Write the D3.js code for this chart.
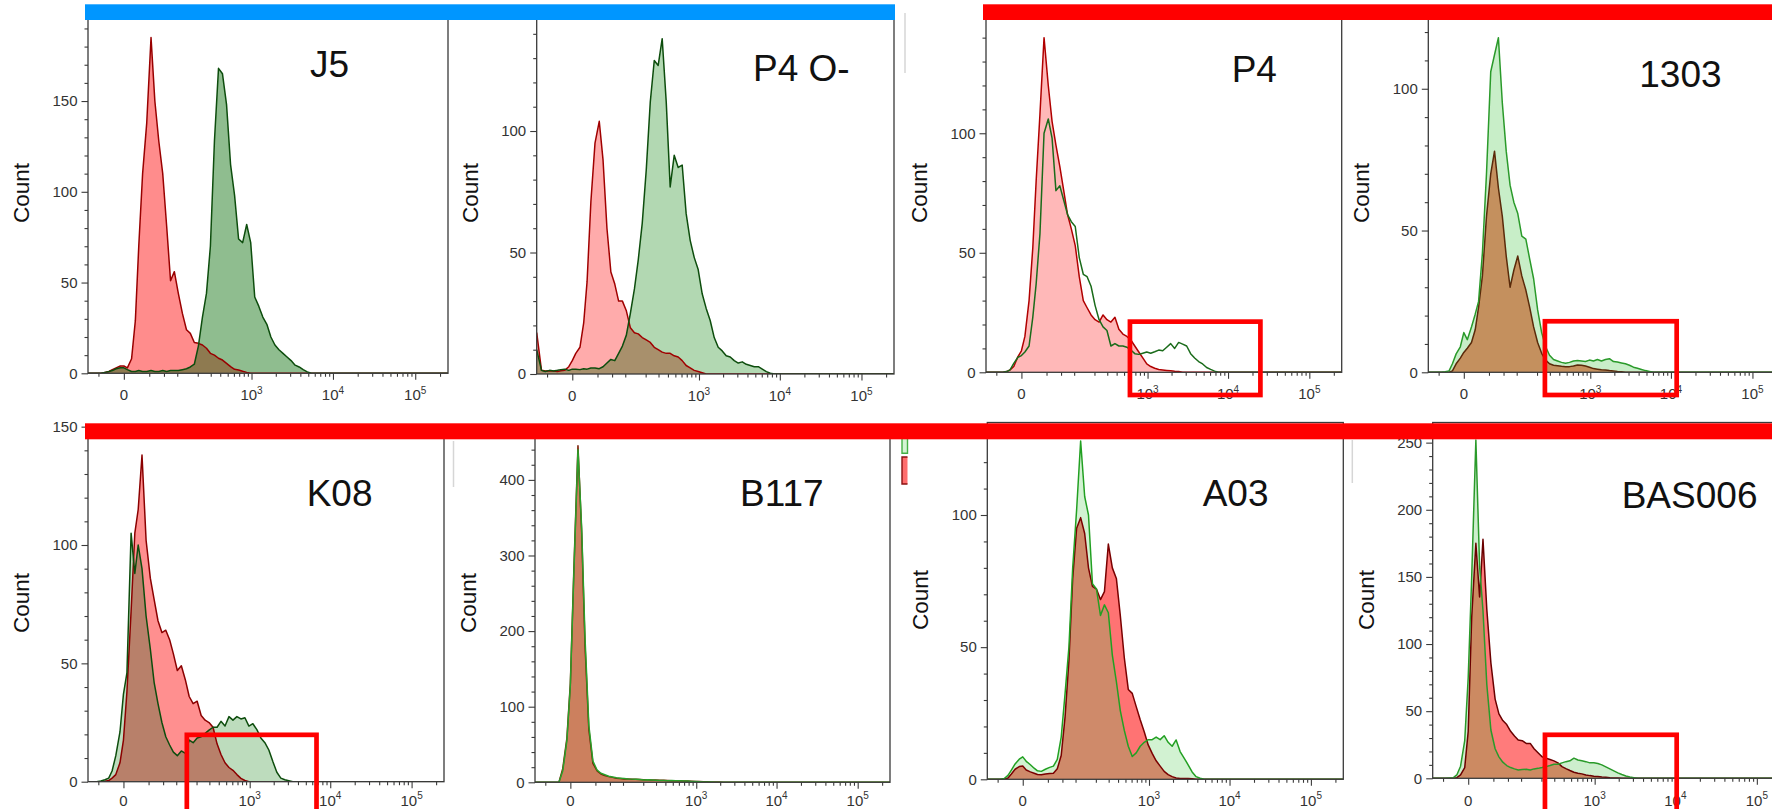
<!DOCTYPE html>
<html>
<head>
<meta charset="utf-8">
<script src="https://cdn.jsdelivr.net/npm/d3@7"></script>
<style>
  html, body { margin: 0; padding: 0; background: #fff; }
  svg { display: block; }
</style>
</head>
<body>
<svg id="fig" width="1772" height="809"></svg>
<script>
// ---------------------------------------------------------------------------
// Flow cytometry overlays: count per fluorescence channel, two stains per sample
// ---------------------------------------------------------------------------

const PANEL_NAMES = ["J5", "P4 O-", "P4", "1303", "K08", "B117", "A03", "BAS006"];

// fluorescence channel centres (biexponential display)
const CHANNELS = [-50,
  -40, -33, -26, -20, -15, -11, -7, -3, 0, 3,
  7, 11, 15, 20, 26, 33, 40, 48, 57, 67,
  78, 90, 104, 120, 138, 157, 179, 204, 232, 263,
  297, 336, 380, 428, 483, 544, 612, 688, 774, 870,
  977, 1097, 1231, 1382, 1551, 1739, 1951, 2187, 2452, 2749,
  3081, 3453, 3869, 4336, 4857, 5443, 6097, 6829, 7649, 8567,
  9596, 10749, 12036, 13481, 15098, 16907, 18935,
  250000];

const J5_RED = [0,
  0,0,0,0.5,1,2,3,4,4,3,
  8,29,70,110,138,185,150,128,110,81,
  51,56,44,33,24,22,17,16.5,15.6,13.8,
  11,10,8.3,7.3,5.5,3.7,2.2,1.8,1.1,0.5,
  0,0,0,0,0,0,0,0,0,0,
  0,0,0,0,0,0,0,0,0,0,
  0,0,0,0,0,0,0,
  0];
const J5_GREEN = [0,
  0,0,0,0.5,1,1.5,2.5,3,3,2,
  1,1,1.5,1,1,1.5,1,1,1.5,1,
  1.5,1.5,1.5,2,2.5,3.5,5,15,31,44,
  70,128,168,165,148,115,98,74,72,82,
  72,42,37,31,27,20,15.6,13,11,9,
  7,4.5,3.5,2,0.8,0,0,0,0,0,
  0,0,0,0,0,0,0,
  0];

const P4O_RED = [17,
  1.5,1.2,1.3,1.2,1.0,1.3,1.5,3,5.5,8.5,
  11,21,38,71,95,104,88,60,42,37,
  30,30,26,19,17,16.5,15,14,13,11,
  10,9,8.5,8.5,7.5,7,5.5,3.5,2.5,1.5,
  1,0.5,0,0,0,0,0,0,0,0,
  0,0,0,0,0,0,0,0,0,0,
  0,0,0,0,0,0,0,
  0];
const P4O_GREEN = [10,
  1.5,1.0,1.5,1.2,1.5,1.8,2,1.5,2,2,
  1.8,2.2,2,2.5,2.5,2.2,3,4.5,6,5.5,
  8.5,11.5,16,25,35,47,62,84,112,129,
  127,138,112,77,90,85,86,66,55,48,
  43,33,27,22,15,11,9.5,7.5,7,5.5,
  4.5,5,4,3.5,3,3,2,1,0.3,0,
  0,0,0,0,0,0,0,
  0];

const P4_RED = [0,
  0,0,0,0,0.3,1,2.4,6.6,9,15,
  30,52,80,108,140,120,105,95,86,76,
  66,60,53,40,30,27,24,22,21,24,
  22,21,23,18,16,15,13.5,11,8.5,6,
  3.5,2.4,1.7,1.2,1,0.8,0.6,0.4,0.3,0,
  0,0,0,0,0,0,0,0,0,0,
  0,0,0,0,0,0,0,
  0];
const P4_GREEN = [0,
  0,0,0,0,0.3,1,3.7,6.3,7,8.5,
  11,23,37,58,100,106,98,76,78,72,
  66,63,61,48,41,40,36,28,22,19,
  17.5,11,12,11,11,10.5,9.3,7.8,7.5,8,
  8.5,8,8.6,9.3,9,10.5,12,10,12.5,11.8,
  11,7.8,6,4.5,3.5,2,1.2,0.5,0,0,
  0,0,0,0,0,0,0,
  0];

const S1303_RED = [0,
  0,0,0,0,0,0.5,3,5,7,8.5,
  10.5,15,23,34,55,70,78,65,55,41,
  30,36,41,34,29,23,16,10.5,6.7,4.3,
  3,2.5,2.3,2.1,2,2,2.2,2.6,2.5,2.2,
  1.8,1.3,1.1,0.9,0.8,0.6,0.5,0.3,0.2,0,
  0,0,0,0,0,0,0,0,0,0,
  0,0,0,0,0,0,0,
  0];
const S1303_GREEN = [0,
  0,0,0,0.2,0.5,3,6.5,9,14,11.5,
  16,20.5,25,42,70,106,112,118,95,78,
  66,60,56,48,47,40,33,22,14,9,
  6,4.5,4,3.5,3.2,3.5,4,4.2,4,3.8,
  4.3,4,4.5,4,4.5,4.8,3.8,3.6,3.3,3,
  2.5,1.8,1.4,1,0.6,0.3,0,0,0,0,
  0,0,0,0,0,0,0,
  0];

const K08_RED = [0,
  0,0,0,0.2,0.5,1.5,3,8,17.6,38,
  72,105,115,138,102,86,77,68,63,64,
  60,54,47,49,43,36,33,34,28,26,
  25,23,16,11.5,8,6,4.8,3,1.4,0.5,
  0,0,0,0,0,0,0,0,0,0,
  0,0,0,0,0,0,0,0,0,0,
  0,0,0,0,0,0,0,
  0];
const K08_GREEN = [0,
  0,0,0.3,0.8,1.5,4.5,11,21,37,46,
  105,88,100,90,70,56,42,33,25,19,
  15.5,12.5,11,13,12,17.6,16.5,18.5,19,20.4,
  21.8,23,23,25.5,23.5,27.5,26,27.5,26.5,27,
  23.5,24.5,22,18.5,16.5,13.4,8.5,4,1.5,0.8,
  0.4,0,0,0,0,0,0,0,0,0,
  0,0,0,0,0,0,0,
  0];

const B117_RED = [0,
  0,0,0,0,0,0.5,18,58,131,280,
  445,330,180,70,25,15,11,9,7.5,6.5,
  5.5,5,4.5,4.3,4,4,3.8,3.5,3.3,3,
  3,2.8,2.6,2.4,2.2,2,2,1.8,1.8,1.5,
  1.2,1,0.8,0.6,0.5,0.4,0.3,0.2,0,0,
  0,0,0,0,0,0,0,0,0,0,
  0,0,0,0,0,0,0,
  0];
const B117_GREEN = [0,
  0,0,0,0,0,0.3,15,55,128,275,
  440,335,190,75,28,16,12,10,8,7,
  6,5.5,5,4.5,4.2,4,3.6,3.2,3.3,3,
  2.7,2.5,2.5,2.2,2.3,2,2.2,1.8,1.6,1.2,
  1,0.7,0.5,0.4,0.3,0.2,0.1,0,0,0,
  0,0,0,0,0,0,0,0,0,0,
  0,0,0,0,0,0,0,
  0];

const A03_RED = [0,
  0,0,0,0,0.5,2,3.8,4.8,5,3.5,
  2.8,2.3,1.8,1.7,2,2.2,2.3,4,9,23.7,
  45,76,95,99,93,80,73,72,68,71,
  89,80,76,62,46,34,32.5,27.5,22.5,18,
  13,9.8,7,5,3,1.8,1,0.5,0.3,0.3,
  0.3,0.2,0,0,0,0,0,0,0,0,
  0,0,0,0,0,0,0,
  0];
const A03_GREEN = [0,
  0,0,0,0.3,1.5,3.5,5.8,7.6,8.5,6.8,
  5.5,4.2,3.2,3,3.8,4.5,5,7.5,16,32.5,
  50,80,102,128,107,100,74,72,62,66,
  63,47,37,26,18.5,12.5,8.6,10,12.5,14,
  15,15,16,15,16.5,14,12.5,14.9,10.5,8,
  5.5,2.8,1,0.4,0,0,0,0,0,0,
  0,0,0,0,0,0,0,
  0];

const BAS006_RED = [0,
  0,0,0,0,0,0.5,2.5,8,35,120,
  175,135,178,126,86,59,48,43,40,35,
  31.5,28.5,28,26,26,22,19,16,14.9,14,
  13,11.5,8.7,7.2,5.8,4.5,3.8,3.3,2.5,2,
  1.6,1.3,1,0.8,0.5,0.3,0.2,0,0,0,
  0,0,0,0,0,0,0,0,0,0,
  0,0,0,0,0,0,0,
  0];
const BAS006_GREEN = [0,
  0,0,0,0.3,0.5,2.5,9,28,75,150,
  252,158,125,70,36,22,16,12,9.5,8,
  7,6.2,6.5,6.8,6.2,7,7.4,8,8.7,9.5,
  10.5,10.5,11.5,12.4,13,15,13.6,13,12.4,11.5,
  11.5,11,10,8.5,7,5.5,4,2.8,1.7,1,
  0.5,0,0,0,0,0,0,0,0,0,
  0,0,0,0,0,0,0,
  0];

const RED_SERIES   = [J5_RED, P4O_RED, P4_RED, S1303_RED, K08_RED, B117_RED, A03_RED, BAS006_RED];
const GREEN_SERIES = [J5_GREEN, P4O_GREEN, P4_GREEN, S1303_GREEN, K08_GREEN, B117_GREEN, A03_GREEN, BAS006_GREEN];

// axis ticks
const X_DOMAIN = [-50, 250000];
const SYMLOG_C = 29;
const X_MAJOR = [0, 1e3, 1e4, 1e5];
const X_MAJOR_LABELS = [["0", ""], ["10", "3"], ["10", "4"], ["10", "5"]];
const X_MINOR = [-30, 30, 60, 100, 200, 300, 400, 500, 600, 700, 800, 900,
  2000, 3000, 4000, 5000, 6000, 7000, 8000, 9000,
  20000, 30000, 40000, 50000, 60000, 70000, 80000, 90000, 200000];
const Y_MAX = [195.2, 146.1, 147.8, 124.6, 150.7, 472.6, 135.0, 265.0];
const Y_TICKS = [
  [0, 50, 100, 150], [0, 50, 100], [0, 50, 100], [0, 50, 100],
  [0, 50, 100, 150], [0, 100, 200, 300, 400], [0, 50, 100], [0, 50, 100, 150, 200, 250]];
const Y_MINOR_STEP = [10, 10, 10, 10, 10, 20, 10, 10];

// gates drawn on four samples: fluorescence range and count extent
const GATES = [
  { panel: 2, x: [596, 25036], y: [21.2, -9.5] },
  { panel: 3, x: [257, 11760], y: [18.0, -8.0] },
  { panel: 4, x: [145, 6775],  y: [19.8, -16] },
  { panel: 7, x: [224, 10385], y: [32.4, -31] }];

// ---------------------------------------------------------------------------
// layout and styling
// ---------------------------------------------------------------------------
const LAYOUT = [
  { left: 88,     right: 448,    top: 19,    bottom: 373.3, labelDy: 27,   titleX: 310,    titleY: 77.3,  countY: 193 },
  { left: 536.7,  right: 894,    top: 19,    bottom: 374,   labelDy: 27,   titleX: 753,    titleY: 81,    countY: 193 },
  { left: 986,    right: 1341.7, top: 19,    bottom: 372.3, labelDy: 27,   titleX: 1231.7, titleY: 81.7,  countY: 193 },
  { left: 1428.3, right: 1784.9, top: 19,    bottom: 372.3, labelDy: 27,   titleX: 1639.3, titleY: 87.3,  countY: 193 },
  { left: 88,     right: 444,    top: 425,   bottom: 781.7, labelDy: 23.8, titleX: 306.7,  titleY: 506,   countY: 603 },
  { left: 535,    right: 890,    top: 425,   bottom: 782.3, labelDy: 23.2, titleX: 740,    titleY: 506,   countY: 603 },
  { left: 987.3,  right: 1343.3, top: 422.5, bottom: 779.3, labelDy: 26.2, titleX: 1202.7, titleY: 506,   countY: 600 },
  { left: 1432.7, right: 1789.3, top: 422.5, bottom: 778.3, labelDy: 27.2, titleX: 1621.7, titleY: 508.3, countY: 600 }];

const STYLE = [
  { redFill: "#ff8c8c", greenFill: "#8fbd8f", overlap: "#8e7a50", redLine: "#990000", greenLine: "#0d4d0d" },
  { redFill: "#ffabab", greenFill: "#b2d8b2", overlap: "#a8906c", redLine: "#a00000", greenLine: "#0d4d0d" },
  { redFill: "#ffb8b8", greenFill: null,      overlap: null,      redLine: "#b00000", greenLine: "#1a6b1a" },
  { redFill: "#e8946a", greenFill: "#c8eec8", overlap: "#c4905e", redLine: "#5a2a0a", greenLine: "#2a9a2a" },
  { redFill: "#ff8f8f", greenFill: "#bddcbd", overlap: "#b8806a", redLine: "#8b0000", greenLine: "#0d4d0d" },
  { redFill: "#ff8080", greenFill: "#ccf0cc", overlap: "#cc805e", redLine: "#7a1a00", greenLine: "#2aa02a" },
  { redFill: "#ff7373", greenFill: "#d2f2d2", overlap: "#cf8a6a", redLine: "#7a0000", greenLine: "#22a022" },
  { redFill: "#ff7b7b", greenFill: "#cdeecd", overlap: "#cc8a62", redLine: "#6b0000", greenLine: "#2a9a2a" }];

const BANDS = [
  { x0: 85,  x1: 895,  y0: 4.3,   y1: 20,    color: "#0096ff" },
  { x0: 983, x1: 1772, y0: 4.3,   y1: 20,    color: "#ff0000" },
  { x0: 85,  x1: 1772, y0: 423.3, y1: 439.3, color: "#ff0000" }];

const EDGE_LINES = [
  { x: 905,    y0: 13,  y1: 73 },
  { x: 453.5,  y0: 441, y1: 487 },
  { x: 1352.3, y0: 440, y1: 483 }];

const FONT = "'Liberation Sans', Arial, Helvetica, sans-serif";
const AXIS_COLOR = "#3a3a3a";

// ---------------------------------------------------------------------------
const svg = d3.select("#fig");
svg.append("rect").attr("width", 1772).attr("height", 809).attr("fill", "#fff");
const defs = svg.append("defs");

PANEL_NAMES.forEach((name, i) => {
  const L = LAYOUT[i], S = STYLE[i];
  const x = d3.scaleSymlog().constant(SYMLOG_C).domain(X_DOMAIN).range([L.left, L.right]);
  const y = d3.scaleLinear().domain([0, Y_MAX[i]]).range([L.bottom, L.top]);

  const red = CHANNELS.map((c, j) => [c, RED_SERIES[i][j]]);
  const green = CHANNELS.map((c, j) => [c, GREEN_SERIES[i][j]]);
  const area = d3.area().x(d => x(d[0])).y0(y(0)).y1(d => y(d[1]));
  const line = d3.line().x(d => x(d[0])).y(d => y(d[1]));

  const g = svg.append("g").attr("class", "panel");

  const clipId = "plot-clip-" + i;
  defs.append("clipPath").attr("id", clipId)
    .append("rect")
    .attr("x", L.left).attr("y", L.top)
    .attr("width", L.right - L.left).attr("height", L.bottom - L.top);

  const plot = g.append("g").attr("clip-path", `url(#${clipId})`);

  plot.append("path").attr("d", area(red)).attr("fill", S.redFill);
  if (S.greenFill) {
    plot.append("path").attr("d", area(green)).attr("fill", S.greenFill);
    const ovId = "overlap-clip-" + i;
    defs.append("clipPath").attr("id", ovId).append("path").attr("d", area(green));
    plot.append("g").attr("clip-path", `url(#${ovId})`)
      .append("path").attr("d", area(red)).attr("fill", S.overlap);
  }
  plot.append("path").attr("d", line(red))
    .attr("fill", "none").attr("stroke", S.redLine)
    .attr("stroke-width", 1.5).attr("stroke-linejoin", "round");
  plot.append("path").attr("d", line(green))
    .attr("fill", "none").attr("stroke", S.greenLine)
    .attr("stroke-width", 1.5).attr("stroke-linejoin", "round");

  // frame
  g.append("rect")
    .attr("x", L.left).attr("y", L.top)
    .attr("width", L.right - L.left).attr("height", L.bottom - L.top)
    .attr("fill", "none").attr("stroke", AXIS_COLOR).attr("stroke-width", 1.3);

  // y axis
  const yMinor = d3.range(0, Y_MAX[i], Y_MINOR_STEP[i]).filter(v => !Y_TICKS[i].includes(v));
  const gyMinor = g.append("g").attr("transform", `translate(${L.left},0)`)
    .call(d3.axisLeft(y).tickValues(yMinor).tickSize(3.5).tickFormat(""));
  gyMinor.select(".domain").remove();
  const gy = g.append("g").attr("transform", `translate(${L.left},0)`)
    .call(d3.axisLeft(y).tickValues(Y_TICKS[i]).tickSize(6.5).tickPadding(4).tickFormat(d3.format("d")));
  gy.select(".domain").remove();
  [gy, gyMinor].forEach(a => a.attr("color", AXIS_COLOR).selectAll("line").attr("stroke-width", 1.1));
  gy.attr("font-size", 15).attr("font-family", FONT);
  gy.selectAll("text").attr("fill", "#333");

  // x axis
  const gxMinor = g.append("g").attr("transform", `translate(0,${L.bottom})`)
    .call(d3.axisBottom(x).tickValues(X_MINOR).tickSize(3.5).tickFormat(""));
  gxMinor.select(".domain").remove();
  const gx = g.append("g").attr("transform", `translate(0,${L.bottom})`)
    .call(d3.axisBottom(x).tickValues(X_MAJOR).tickSize(6.5).tickFormat(""));
  gx.select(".domain").remove();
  [gx, gxMinor].forEach(a => a.attr("color", AXIS_COLOR).selectAll("line").attr("stroke-width", 1.1));

  X_MAJOR.forEach((v, k) => {
    const [base, sup] = X_MAJOR_LABELS[k];
    const t = g.append("text")
      .attr("x", x(v)).attr("y", L.bottom + L.labelDy)
      .attr("text-anchor", "middle")
      .attr("font-family", FONT).attr("font-size", 15).attr("fill", "#333")
      .text(base);
    if (sup) t.append("tspan").attr("font-size", 10).attr("dy", -6.5).text(sup);
  });

  // sample name
  g.append("text")
    .attr("x", L.titleX).attr("y", L.titleY)
    .attr("font-family", FONT).attr("font-size", 37).attr("fill", "#111")
    .text(name);

  // y axis title
  g.append("text")
    .attr("transform", `translate(${L.left - 66.5},${L.countY}) rotate(-90)`)
    .attr("text-anchor", "middle").attr("dominant-baseline", "central")
    .attr("font-family", FONT).attr("font-size", 22.5).attr("fill", "#111")
    .text("Count");

  // gates
  GATES.filter(gt => gt.panel === i).forEach(gt => {
    g.append("rect")
      .attr("x", x(gt.x[0])).attr("y", y(gt.y[0]))
      .attr("width", x(gt.x[1]) - x(gt.x[0]))
      .attr("height", y(gt.y[1]) - y(gt.y[0]))
      .attr("fill", "none").attr("stroke", "#ff0000").attr("stroke-width", 4.7);
  });
});

// thin edges of neighbouring frames
EDGE_LINES.forEach(e => {
  svg.append("line")
    .attr("x1", e.x).attr("x2", e.x).attr("y1", e.y0).attr("y2", e.y1)
    .attr("stroke", "#d6d6d6").attr("stroke-width", 1.5);
});

// clipped legend swatches between B117 and A03
const legend = svg.append("g");
legend.append("rect").attr("x", 902).attr("y", 436).attr("width", 5.5).attr("height", 17.3).attr("fill", "#d4f4d4");
legend.append("path").attr("d", "M907.5,436V453.3H902V436").attr("fill", "none").attr("stroke", "#44b044").attr("stroke-width", 1.4);
legend.append("rect").attr("x", 902).attr("y", 457).attr("width", 5.5).attr("height", 27).attr("fill", "#ff6e6e");
legend.append("path").attr("d", "M907.5,457H902V484H907.5").attr("fill", "none").attr("stroke", "#8b1010").attr("stroke-width", 1.4);

// group bands across the top of each row
BANDS.forEach(b => {
  svg.append("rect")
    .attr("x", b.x0).attr("y", b.y0)
    .attr("width", b.x1 - b.x0).attr("height", b.y1 - b.y0)
    .attr("fill", b.color);
});

[RED_SERIES, GREEN_SERIES].forEach(set => set.forEach((s, i) => {
  if (s.length !== CHANNELS.length) console.warn(PANEL_NAMES[i], s.length);
}));
</script>
</body>
</html>
